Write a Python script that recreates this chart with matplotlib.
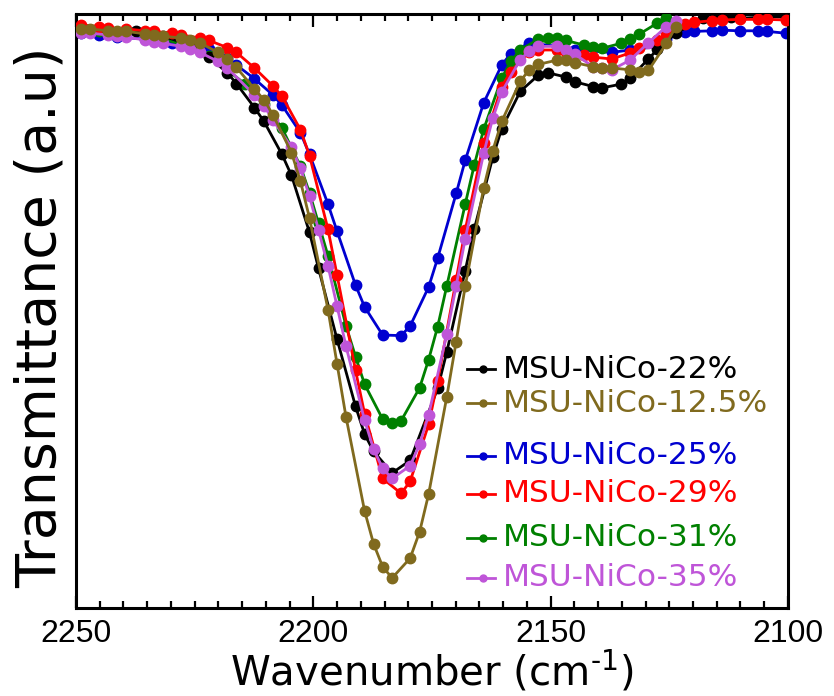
import matplotlib
matplotlib.use("Agg")
import matplotlib.pyplot as plt
from matplotlib.ticker import MultipleLocator

# FTIR spectra (CO region), transmittance in arbitrary units

wn_22 = [2249.0, 2243.2, 2237.4, 2231.6, 2225.9, 2222.0, 2218.1, 2216.2, 2212.4, 2210.4,
         2206.6, 2204.6, 2200.8, 2198.9, 2195.0, 2191.1, 2189.2, 2187.3, 2183.4, 2179.6,
         2173.8, 2171.9, 2168.0, 2166.1, 2162.2, 2160.3, 2156.4, 2152.6, 2150.6, 2146.8,
         2144.9, 2141.0, 2139.1, 2135.2, 2133.3, 2129.4, 2127.5, 2123.6, 2117.9, 2114.0,
         2112.1, 2110.1, 2104.4, 2100.5]
t_22 = [96.3, 96.3, 96.1, 95.3, 93.8, 91.8, 89.2, 87.4, 83.4, 81.1,
        75.6, 72.1, 62.6, 56.6, 44.8, 33.6, 29.0, 26.1, 22.5, 24.6,
        36.6, 42.6, 56.2, 63.1, 75.1, 79.9, 86.1, 88.8, 89.2, 88.5,
        87.7, 86.9, 86.7, 87.3, 88.3, 91.5, 93.1, 95.8, 98.3, 98.5,
        98.5, 98.3, 98.5, 98.5]

wn_125 = [2249.0, 2247.1, 2243.2, 2241.3, 2239.4, 2235.5, 2233.6, 2231.6, 2227.8, 2225.9,
          2223.9, 2220.1, 2218.1, 2216.2, 2212.4, 2210.4, 2208.5, 2204.6, 2202.7, 2200.8,
          2196.9, 2195.0, 2193.1, 2189.2, 2187.3, 2185.4, 2183.4, 2179.6, 2177.6, 2175.7,
          2171.9, 2169.9, 2168.0, 2164.1, 2162.2, 2160.3, 2156.4, 2154.5, 2152.6, 2148.7,
          2146.8, 2144.9, 2141.0, 2139.1, 2137.1, 2133.3, 2131.4, 2129.4, 2125.6, 2123.6]
t_125 = [96.5, 96.5, 96.2, 96.1, 96.1, 95.7, 95.5, 95.3, 95.0, 94.6,
         94.2, 92.6, 91.5, 90.1, 86.5, 84.7, 82.2, 75.9, 71.1, 65.0,
         49.7, 40.7, 31.8, 16.2, 10.7, 6.9, 5.0, 8.3, 12.7, 19.0,
         35.1, 44.4, 53.6, 70.0, 76.2, 81.1, 87.8, 89.7, 90.6, 91.3,
         91.3, 90.9, 90.2, 90.0, 90.0, 89.7, 89.4, 89.6, 94.1, 96.9]

wn_25 = [2249.0, 2245.1, 2241.3, 2235.5, 2229.7, 2225.9, 2222.0, 2218.1, 2216.2, 2212.4,
         2208.5, 2206.6, 2202.7, 2200.8, 2196.9, 2195.0, 2191.1, 2189.2, 2185.4, 2181.5,
         2179.6, 2175.7, 2173.8, 2169.9, 2168.0, 2164.1, 2160.3, 2158.4, 2154.5, 2148.7,
         2144.9, 2137.1, 2133.3, 2127.5, 2125.6, 2121.7, 2119.8, 2115.9, 2114.0, 2110.1,
         2106.3, 2104.4, 2100.5]
t_25 = [95.8, 95.5, 95.2, 94.8, 94.2, 93.7, 93.1, 91.7, 90.5, 88.2,
        85.5, 83.8, 79.2, 75.6, 67.3, 62.8, 53.8, 50.2, 45.5, 45.4,
        47.0, 53.5, 58.3, 69.1, 74.6, 84.2, 90.5, 92.4, 94.2, 93.6,
        93.0, 92.6, 93.0, 93.6, 94.8, 96.0, 96.1, 96.2, 96.3, 96.2,
        96.2, 96.1, 95.8]

wn_29 = [2249.0, 2245.1, 2243.2, 2239.4, 2235.5, 2233.6, 2229.7, 2227.8, 2223.9, 2222.0,
         2218.1, 2216.2, 2212.4, 2208.5, 2206.6, 2202.7, 2200.8, 2196.9, 2195.0, 2191.1,
         2189.2, 2185.4, 2181.5, 2179.6, 2175.7, 2173.8, 2169.9, 2168.0, 2164.1, 2160.3,
         2158.4, 2154.5, 2152.6, 2148.7, 2146.8, 2142.9, 2141.0, 2137.1, 2133.3, 2131.4,
         2127.5, 2125.6, 2121.7, 2119.8, 2115.9, 2114.0, 2110.1, 2106.3, 2104.4, 2100.5]
t_29 = [97.2, 96.9, 96.7, 96.5, 96.2, 96.1, 95.8, 95.5, 95.0, 94.6,
        93.4, 92.6, 90.0, 87.0, 85.3, 79.7, 75.4, 63.1, 55.5, 39.6,
        32.4, 21.6, 19.1, 21.1, 30.6, 37.8, 54.7, 63.0, 77.5, 86.9,
        89.4, 92.7, 93.0, 93.0, 92.7, 92.2, 91.8, 91.5, 92.5, 93.4,
        94.7, 95.8, 97.3, 97.6, 97.9, 98.0, 98.1, 98.1, 98.1, 98.0]

wn_31 = [2249.0, 2245.1, 2239.4, 2233.6, 2227.8, 2222.0, 2214.3, 2210.4, 2206.6, 2202.7,
         2200.8, 2198.9, 2196.9, 2193.1, 2191.1, 2189.2, 2185.4, 2183.4, 2181.5, 2177.6,
         2175.7, 2173.8, 2171.9, 2168.0, 2166.1, 2164.1, 2160.3, 2158.4, 2156.4, 2152.6,
         2150.6, 2148.7, 2146.8, 2142.9, 2141.0, 2139.1, 2135.2, 2133.3, 2131.4, 2127.5,
         2125.6]
t_31 = [96.2, 96.2, 95.8, 95.2, 94.0, 92.0, 87.3, 84.0, 80.0, 73.6,
        69.2, 64.1, 58.7, 47.0, 41.9, 37.3, 31.5, 30.8, 31.2, 36.7,
        41.4, 46.9, 53.6, 67.3, 73.8, 79.8, 88.3, 91.1, 93.0, 94.8,
        95.0, 95.0, 94.6, 93.8, 93.5, 93.3, 94.1, 94.8, 95.6, 97.5,
        98.4]

wn_35 = [2249.0, 2247.1, 2243.2, 2241.3, 2239.4, 2235.5, 2233.6, 2231.6, 2227.8, 2225.9,
         2223.9, 2220.1, 2218.1, 2212.4, 2210.4, 2208.5, 2204.6, 2202.7, 2200.8, 2198.9,
         2196.9, 2195.0, 2193.1, 2189.2, 2187.3, 2185.4, 2183.4, 2179.6, 2177.6, 2175.7,
         2171.9, 2169.9, 2168.0, 2164.1, 2162.2, 2160.3, 2156.4, 2154.5, 2152.6, 2148.7,
         2146.8, 2144.9, 2141.0, 2139.1, 2137.1, 2133.3, 2129.4, 2125.6, 2123.6]
t_35 = [95.8, 95.8, 95.5, 95.3, 95.1, 94.7, 94.4, 94.1, 93.6, 93.1,
        92.6, 91.1, 90.0, 85.5, 83.7, 81.3, 76.8, 73.3, 68.6, 63.0,
        57.0, 50.3, 43.6, 31.3, 26.5, 23.3, 21.6, 23.7, 27.3, 32.2,
        45.6, 53.7, 61.5, 75.8, 81.6, 86.0, 91.4, 92.8, 93.6, 93.6,
        93.0, 92.3, 90.2, 90.0, 89.7, 91.3, 94.2, 96.9, 97.9]

labels = ["MSU-NiCo-22%", "MSU-NiCo-12.5%", "MSU-NiCo-25%",
          "MSU-NiCo-29%", "MSU-NiCo-31%", "MSU-NiCo-35%"]
colors = ["#000000", "#806A1E", "#0000D0", "#FF0000", "#008000", "#BF55D8"]
series = [(wn_22, t_22), (wn_125, t_125), (wn_25, t_25),
          (wn_29, t_29), (wn_31, t_31), (wn_35, t_35)]

plt.rcParams["font.family"] = ["Liberation Sans", "DejaVu Sans"]
plt.rcParams["mathtext.default"] = "regular"

fig = plt.figure(figsize=(8.34, 6.96), dpi=100)
ax = fig.add_axes([0.0911, 0.1264, 0.8537, 0.8535])

# drawing order seen in the picture: blue under, brown on top
zorder = {2: 2, 4: 3, 0: 4, 3: 5, 5: 6, 1: 7}
for i, (wn, t) in enumerate(series):
    ax.plot(wn, t, "-o", color=colors[i], lw=2.0, ms=7.5, zorder=zorder[i])

ax.set_xlim(2250, 2100)
ax.set_ylim(0, 99)
ax.xaxis.set_major_locator(MultipleLocator(50))
ax.xaxis.set_minor_locator(MultipleLocator(5))
ax.tick_params(axis="x", which="both", direction="in", top=True, width=1.6, labelsize=23, pad=8)
ax.tick_params(axis="x", which="major", length=9)
ax.tick_params(axis="x", which="minor", length=5)
ax.set_yticks([])
for s in ax.spines.values():
    s.set_linewidth(2.2)

ax.set_xlabel(r"Wavenumber (cm$^{\text{-1}}$)", fontsize=29, family="DejaVu Sans", labelpad=0)
ax.set_ylabel("Transmittance (a.u)", fontsize=40, family="DejaVu Sans")
ax.yaxis.set_label_coords(-0.012, 0.49)

# hand-placed legend, one line per sample
leg_y = [0.402, 0.345, 0.256, 0.192, 0.118, 0.051]
for i in range(6):
    ax.plot([0.549, 0.589], [leg_y[i], leg_y[i]], transform=ax.transAxes, color=colors[i],
            lw=2.0, zorder=10)
    ax.plot([0.571], [leg_y[i]], "o", transform=ax.transAxes, color=colors[i], ms=5, zorder=10)
    ax.text(0.600, leg_y[i], labels[i], transform=ax.transAxes, color=colors[i],
            fontsize=22.5, family="DejaVu Sans", va="center", ha="left")

fig.savefig("out.png", dpi=100)
